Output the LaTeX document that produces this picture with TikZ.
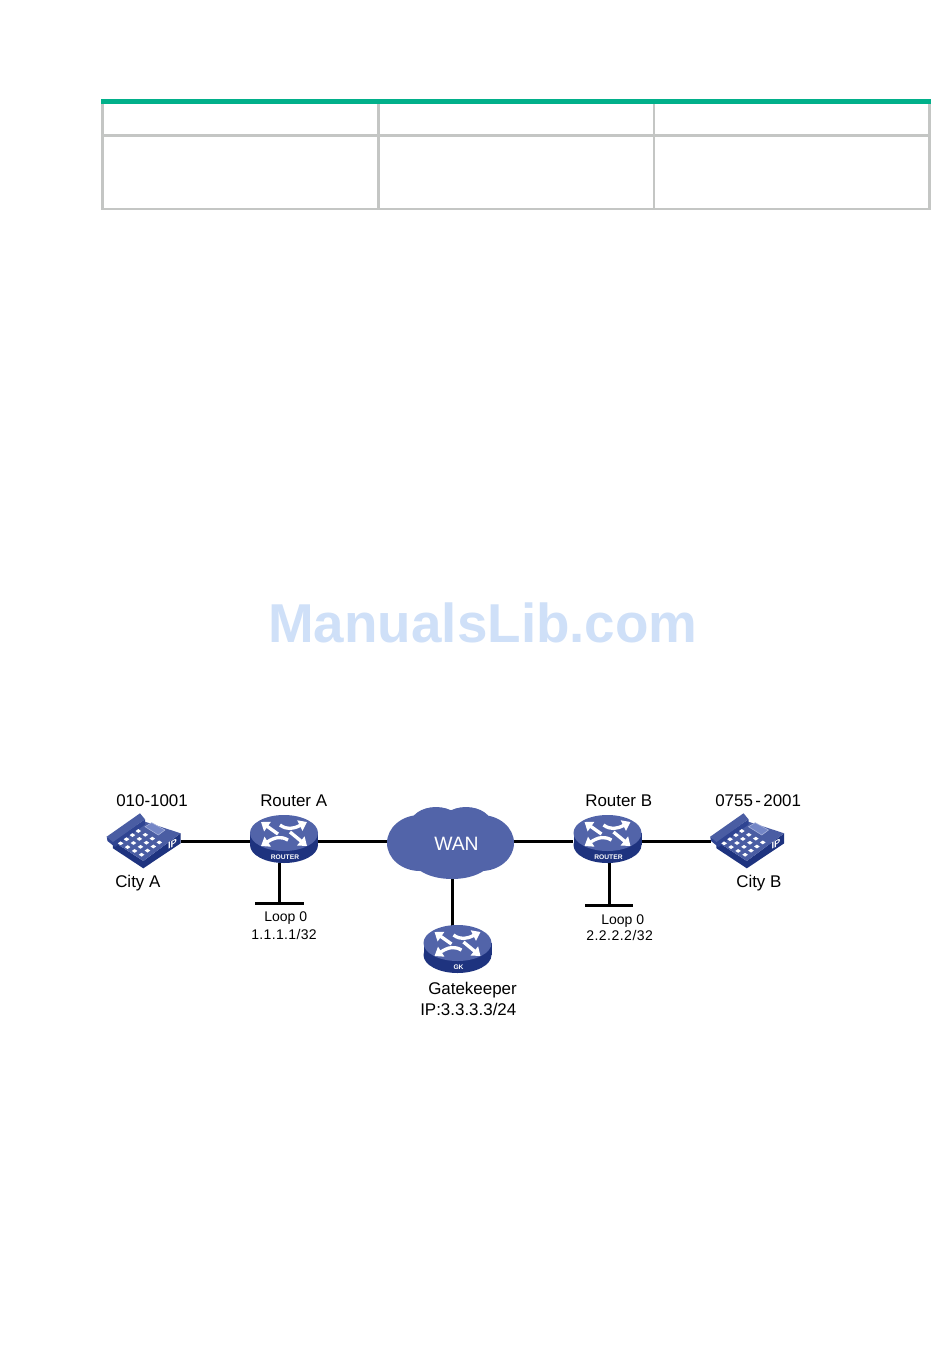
\documentclass[tikz,border=0pt]{standalone}
\usepackage{fontspec}
\setmainfont{Liberation Sans}
\usetikzlibrary{arrows.meta}
\definecolor{topblue}{HTML}{5264A9}
\definecolor{sideblue}{HTML}{1E337F}
\definecolor{midblue}{HTML}{2F4492}
\definecolor{screenblue}{HTML}{7486C6}
\definecolor{tablegray}{HTML}{C4C6C4}
\definecolor{tablegreen}{HTML}{01B08A}
\definecolor{markblue}{HTML}{CFE0F8}
\tikzset{
  x=0.75pt,y=-0.75pt,
  link/.style={line width=2.25pt,black},
  cell/.style={line width=2.2pt,tablegray},
  greenbar/.style={line width=3.4pt,tablegreen},
  lbl/.style={anchor=base west,inner sep=0pt,font=\fontsize{12.7}{14}\selectfont},
  small/.style={anchor=base west,inner sep=0pt,font=\fontsize{10.5}{12}\selectfont},
  hub/.style={inner sep=0pt,minimum width=51pt,minimum height=33pt},
  phonebox/.style={inner sep=0pt,minimum width=55pt,minimum height=40pt},
  arrowline/.style={white,line width=2.5pt,-{Triangle[length=6pt,width=8.5pt]}},
  routericon/.pic={
    \fill[sideblue] (-34,0) rectangle (34,12);
    \fill[sideblue] (0,12) ellipse [x radius=34,y radius=18];
    \fill[topblue] (0,0) ellipse [x radius=34,y radius=18];
    \draw[arrowline] (-6,1) -- (-23,-11);
    \draw[arrowline] (-4,-8) .. controls (3,-3) and (9,-4) .. (23,-11);
    \draw[arrowline] (4,7) .. controls (-3,3) and (-9,4) .. (-23,13);
    \draw[arrowline] (6,-1) -- (23,13);
    \node[white,inner sep=0pt,font=\bfseries\fontsize{5}{6}\selectfont] at (1,24) {#1};
  },
  phoneicon/.pic={
    \fill[sideblue] (-31.3,0) -- (-31,7.3) -- (-0.7,27.3) -- (36.7,2.3) -- (36.7,-7.7) -- (-0.7,20) -- cycle;
    \fill[topblue!85!sideblue] (-31.3,0) -- (1,-19.3) -- (36.7,-7.7) -- (-0.7,20) -- cycle;
    \fill[midblue] (-37.3,-4.3) -- (-36.5,0) -- (-29,6) -- (1,-16.5) -- (1,-21.7) -- (-31,0) -- cycle;
    \fill[topblue!85!sideblue] (-37.3,-4.3) -- (-4,-27.7) -- (1,-21.7) -- (-31,1) -- cycle;
    \filldraw[fill=screenblue,draw=screenblue!60!white,line width=0.4pt] (1,-14.3) -- (7.7,-18.3) -- (21,-11) -- (14.3,-6) -- cycle;
    \foreach \i in {0,1,2,3} \foreach \j in {0,1,2,3}
      \fill[white] ({-5.7-5.9*\i+7*\j+2.8},{-10+4.1*\i+3.8*\j}) -- ++(-2.8,-1.9) -- ++(-2.8,1.9) -- ++(2.8,1.9) -- cycle;
    \node[white,inner sep=0pt,yslant=0.6,font=\bfseries\fontsize{7}{8}\selectfont] at (28.5,3) {IP};
  },
}
\begin{document}
\begin{tikzpicture}
\useasboundingbox (0,0) rectangle (950,1356);
\fill[white] (0,0) rectangle (950,1356);
% table
\coordinate (tl) at (102.7,101.7);
\coordinate (t1) at (378.3,101.7);
\coordinate (t2) at (654,101.7);
\coordinate (tr) at (929.5,101.7);
\coordinate (bl) at (102.7,209);
\coordinate (b1) at (378.3,209);
\coordinate (b2) at (654,209);
\coordinate (br) at (929.5,209);
\coordinate (ml) at (102.7,135.3);
\coordinate (mr) at (929.5,135.3);
\coordinate (gl) at (101,101.7);
\coordinate (gr) at (931,101.7);
\draw[cell] (tl) -- (bl) -- (br) -- (tr);
\draw[cell] (t1) -- (b1);
\draw[cell] (t2) -- (b2);
\draw[cell] (ml) -- (mr);
\draw[greenbar] (gl) -- (gr);
% watermark
\node[anchor=base west,inner sep=0pt,text=markblue,font=\bfseries\fontsize{41.1}{48}\selectfont] (mark) at (268,642.7) {ManualsLib.com};
% anchors
\node[phonebox] (pa) at (144,841) {};
\node[phonebox] (pb) at (747.5,841) {};
\node[hub] (ra) at (284,841) {};
\node[hub] (rb) at (607.5,841) {};
\node[hub] (gk) at (457.5,951) {};
\node[inner sep=0pt,minimum width=95.25pt,minimum height=57pt] (wan) at (450.5,841) {};
\coordinate (gkt) at (452.3,930);
\coordinate (lac) at (279.3,903.3);
\coordinate (la1) at (255,903.3);
\coordinate (la2) at (304,903.3);
\coordinate (lbc) at (609,905.7);
\coordinate (lb1) at (585,905.7);
\coordinate (lb2) at (633,905.7);
% connectors
\draw[link] (pa) -- (ra);
\draw[link] (ra) -- (wan);
\draw[link] (wan) -- (rb);
\draw[link] (rb) -- (pb);
\draw[link] (lac |- ra.south) -- (lac);
\draw[link] (la1) -- (la2);
\draw[link] (lbc |- rb.south) -- (lbc);
\draw[link] (lb1) -- (lb2);
\draw[link] (gkt |- wan.south) -- (gkt);
% cloud
\fill[topblue] (420,843) ellipse [x radius=33,y radius=28];
\fill[topblue] (481,843) ellipse [x radius=33,y radius=28];
\fill[topblue] (436,825) ellipse [x radius=26,y radius=18];
\fill[topblue] (466,825) ellipse [x radius=26,y radius=18];
\fill[topblue] (452,858) ellipse [x radius=40,y radius=21];
\fill[topblue] (420,825) rectangle (485,860);
\node[lbl,text=white,font=\fontsize{14.5}{16}\selectfont] (wanlabel) at (434,850.7) {WAN};
% icons
\pic at (284,833) {routericon=ROUTER};
\pic at (607.5,833) {routericon=ROUTER};
\pic at (457.5,943) {routericon=GK};
\pic at (144,841) {phoneicon};
\pic at (747.5,841) {phoneicon};
% labels
\node[lbl] (t010) at (116,806) {010-1001};
\node[lbl] (tra) at (260,806) {Router A};
\node[lbl] (trb) at (585,806) {Router B};
\node[lbl] (t0755) at (715,806) {0755\kern1.8pt-\kern1.8pt2001};
\node[lbl] (tca) at (115,887.3) {City A};
\node[lbl] (tcb) at (736,887.3) {City B};
\node[small] (tla) at (264,921.7) {Loop 0};
\node[small] (tlb) at (601,924) {Loop 0};
\node[small] (tia) at (251,939.3) {\addfontfeature{LetterSpace=2.5}1.1.1.1/32};
\node[small] (tib) at (586,940.7) {\addfontfeature{LetterSpace=3.5}2.2.2.2/32};
\node[lbl] (tgk) at (428,994) {Gatekeeper};
\node[lbl] (tip) at (420,1015) {IP:3.3.3.3/24};
\end{tikzpicture}
\end{document}
